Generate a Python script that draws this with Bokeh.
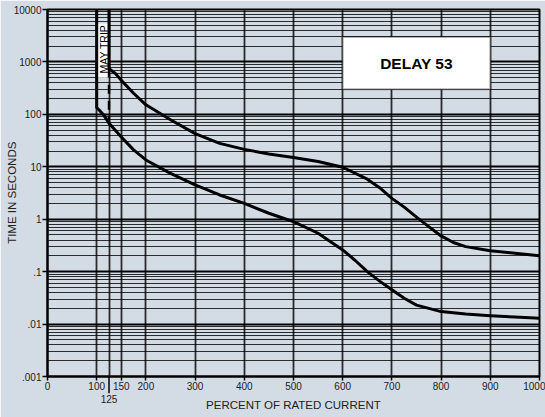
import math
from bokeh.plotting import figure
from bokeh.models import Range1d, FixedTicker, BoxAnnotation, Label
from bokeh.core.properties import value
from bokeh.embed import file_html
from bokeh.resources import INLINE

# ---- data ----
pct_lower = [100, 100, 114, 125, 150, 175, 200, 250, 300, 350, 400, 450, 475, 500,
             550, 600, 625, 650, 675, 700, 725, 750, 800, 850, 900, 950, 1000]
sec_lower = [10000, 135, 98, 68, 37, 21, 13.5, 7.5, 4.5, 2.9, 2.0, 1.3, 1.08, 0.9,
             0.54, 0.26, 0.165, 0.1, 0.066, 0.045, 0.031, 0.023, 0.0173, 0.0155,
             0.0144, 0.0136, 0.0129]

pct_upper = [125, 125, 138, 150, 175, 200, 250, 300, 350, 400, 450, 500, 550, 600,
             650, 675, 700, 725, 750, 775, 800, 825, 850, 900, 950, 1000]
sec_upper = [10000, 740, 600, 445, 253, 152, 79, 43, 28, 21.5, 17.5, 15, 12.6, 9.8,
             5.8, 4.0, 2.5, 1.7, 1.1, 0.72, 0.48, 0.36, 0.30, 0.25, 0.224, 0.2]

x_ticks = [0, 100, 150, 200, 300, 400, 500, 600, 700, 800, 900, 1000]
x_grid = [100, 125, 150, 200, 300, 400, 500, 600, 700, 800, 900, 1000]
extra_tick = [125]
extra_tick_label = ["125"]
y_ticks = [0.001, 0.01, 0.1, 1, 10, 100, 1000, 10000]
y_tick_labels = [".001", ".01", ".1", "1", "10", "100", "1000", "10000"]
y_minor = [m * d for d in [0.001, 0.01, 0.1, 1, 10, 100, 1000] for m in range(2, 10)]

BG = "#d3dce5"
TXT = "#222222"
FONT = "Liberation Sans"

p = figure(width=545, height=417, output_backend="svg", toolbar_location=None,
           x_range=Range1d(0, 1000), y_range=Range1d(0.001, 10000),
           y_axis_type="log", min_border_left=47, min_border_right=6,
           min_border_top=9, min_border_bottom=41)
p.styles = {"position": "absolute", "left": "0px", "top": "0px"}
p.background_fill_color = BG
p.border_fill_color = BG
p.outline_line_color = "black"
p.outline_line_width = 2

# axes
p.xaxis.ticker = FixedTicker(ticks=x_ticks)
p.yaxis.ticker = FixedTicker(ticks=y_ticks)
p.yaxis.major_label_overrides = {t: l for t, l in zip(y_ticks, y_tick_labels)}
for ax in (p.xaxis, p.yaxis):
    ax.major_tick_out = 5
    ax.major_tick_in = 0
    ax.minor_tick_out = 0
    ax.minor_tick_in = 0
    ax.axis_line_color = "black"
    ax.axis_line_width = 2
    ax.major_tick_line_color = "black"
    ax.major_tick_line_width = 1.5
    ax.major_label_text_font = FONT
    ax.major_label_text_font_size = "10px"
    ax.major_label_text_color = TXT
    ax.major_label_standoff = 1
p.xaxis.major_tick_out = 4

# grids
p.xgrid.ticker = FixedTicker(ticks=x_grid)
p.xgrid.grid_line_color = "#2a2a2a"
p.xgrid.grid_line_width = 1.8
p.ygrid.ticker = FixedTicker(ticks=y_ticks, minor_ticks=y_minor)
p.ygrid.grid_line_color = "black"
p.ygrid.grid_line_width = 2
p.ygrid.minor_grid_line_color = "black"
p.ygrid.minor_grid_line_width = 1
p.ygrid.minor_grid_line_alpha = 0.8

# white box behind "MAY TRIP"
p.add_layout(BoxAnnotation(left=100, right=125, bottom=497, top=5330,
                           fill_color="white", fill_alpha=1, line_alpha=0,
                           level="underlay"))

# curves
p.line(pct_lower, sec_lower, line_color="black", line_width=3, line_join="round")
p.line(pct_upper, sec_upper, line_color="black", line_width=3, line_join="round")
p.line([pct_upper[1], pct_upper[1]], [sec_upper[1], sec_lower[3]],
       line_color="black", line_width=2.5, line_dash="9 7")

# long tick at 125 below the axis, with its label
p.segment(x0=extra_tick, y0=[0.001], x1=extra_tick, y1=[10 ** -3.32],
          line_color="black", line_width=1.5, level="annotation")
p.text(x=extra_tick, y=[3.8e-4], text=extra_tick_label, text_align="center",
       text_baseline="middle", text_font=value(FONT), text_font_size="10px",
       text_color=TXT, level="annotation")

# axis titles
p.text(x=[500], y=[2.85e-4], text=["PERCENT OF RATED CURRENT"],
       text_align="center", text_baseline="middle", text_font=value(FONT),
       text_font_size="11.5px", text_color=TXT, level="annotation")
p.text(x=[-73], y=[3.2], text=["TIME IN SECONDS"], angle=math.pi / 2,
       text_align="center", text_baseline="middle", text_font=value(FONT),
       text_font_size="11.5px", text_color=TXT, level="annotation")

# DELAY box
p.add_layout(BoxAnnotation(left=600, right=900, bottom=300, top=3000,
                           fill_color="white", fill_alpha=1,
                           line_color="black", line_width=2))
p.add_layout(Label(x=750, y=950, text="DELAY 53", text_align="center",
                   text_baseline="middle", text_font=FONT, text_font_style="bold",
                   text_font_size="15.5px", text_color="black"))
p.add_layout(Label(x=114, y=600, text="MAY TRIP", angle=math.pi / 2,
                   text_align="left", text_baseline="middle", text_font=FONT,
                   text_font_size="10.5px", text_color="black"))

open("out.html", "w").write(file_html(p, INLINE))
